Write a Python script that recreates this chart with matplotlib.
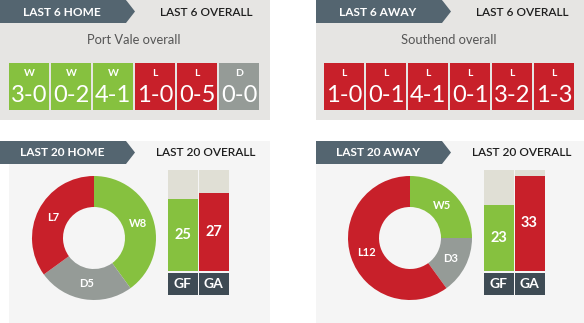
import matplotlib
matplotlib.use('Agg')
import matplotlib.pyplot as plt
from matplotlib.patches import Polygon, Rectangle

plt.rcParams['font.family'] = ['Lato', 'DejaVu Sans']

# data
home_results = ['W', 'W', 'W', 'L', 'L', 'D']
home_scores = ['3-0', '0-2', '4-1', '1-0', '0-5', '0-0']
away_results = ['L', 'L', 'L', 'L', 'L', 'L']
away_scores = ['1-0', '0-1', '4-1', '0-1', '3-2', '1-3']

wdl_labels = ['W', 'D', 'L']
home_wdl = [8, 5, 7]
away_wdl = [5, 3, 12]

goal_labels = ['GF', 'GA']
home_goals = [25, 27]
away_goals = [23, 33]
goal_max = 35

team_titles = ['Port Vale overall', 'Southend overall']

# colours
GREEN = '#86c13f'
RED = '#c8202a'
GREY = '#959b97'
DARK = '#546570'
LABEL_BOX = '#3e4b54'
TOP_BG = '#e6e5e3'
BOT_BG = '#f5f5f5'
BAR_BG = '#e0dfd5'
res_colors = {'W': GREEN, 'L': RED, 'D': GREY}

W, H = 584, 323
fig = plt.figure(figsize=(W / 100, H / 100), dpi=100)
fig.patch.set_facecolor('white')
ax = fig.add_axes([0, 0, 1, 1])
ax.set_xlim(0, W)
ax.set_ylim(H, 0)
ax.axis('off')


def px_axes(x0, y0, x1, y1):
    return fig.add_axes([x0 / W, 1 - y1 / H, (x1 - x0) / W, (y1 - y0) / H])


def header(x0, x1, y0, bg, dark_text, light_text):
    # tabbed header: dark arrow on the left, light tab on the right
    ax.add_patch(Polygon([(x0 + 127, y0), (x1, y0), (x1, y0 + 23), (x0 + 111, y0 + 23)],
                         closed=True, color=bg, lw=0))
    ax.add_patch(Polygon([(x0, y0), (x0 + 126, y0), (x0 + 135, y0 + 11.5),
                          (x0 + 126, y0 + 23), (x0, y0 + 23)],
                         closed=True, color=DARK, lw=0))
    ax.text(x0 + 62, y0 + 12, dark_text, color='white', fontsize=8.6,
            fontweight='bold', ha='center', va='center')
    ax.text(x0 + 206, y0 + 12, light_text, color='#1e1e1e', fontsize=8.6,
            fontweight='semibold', ha='center', va='center')


# ---- top panels: last 6 ----
panels_top = [(16, 270, 'LAST 6 HOME', home_results, home_scores),
              (316, 584, 'LAST 6 AWAY', away_results, away_scores)]
for i, (x0, x1, htxt, res, scores) in enumerate(panels_top):
    x0 = 0 if i == 0 else x0
    ax.add_patch(Rectangle((x0, 23), x1 - x0, 97, color=TOP_BG, lw=0))
    header(x0, x1, 0, TOP_BG, htxt, 'LAST 6 OVERALL')
    cx = (x0 + x1) / 2 - 1
    ax.text(cx, 40, team_titles[i], color='#555555', fontsize=9.3,
            ha='center', va='center')
    left = cx - 125
    xs = [left + 20 + k * 42 for k in range(len(res))]
    ax.bar(xs, [47] * len(res), bottom=63, width=40,
           color=[res_colors[r] for r in res], lw=0)
    for x, r, s in zip(xs, res, scores):
        ax.text(x, 73, r, color='white', fontsize=7.5, fontweight='bold',
                ha='center', va='center')
        ax.text(x, 95.5, s, color='white', fontsize=17,
                ha='center', va='center')

# ---- bottom panels: last 20 ----
panels_bot = [(9, 270, 'LAST 20 HOME', home_wdl, home_goals, 94, 167),
              (316, 584, 'LAST 20 AWAY', away_wdl, away_goals, 410, 483)]
for i, (x0, x1, htxt, wdl, goals, pcx, bx) in enumerate(panels_bot):
    hx0 = 0 if i == 0 else x0
    ax.add_patch(Rectangle((x0, 163), x1 - x0, 160, color=BOT_BG, lw=0))
    header(hx0, x1, 141, BOT_BG, htxt, 'LAST 20 OVERALL')

    # donut
    pax = px_axes(pcx - 62, 238 - 62, pcx + 62, 238 + 62)
    labels = [f'{l}{v}' for l, v in zip(wdl_labels, wdl)]
    wedges, texts = pax.pie(wdl, colors=[GREEN, GREY, RED], startangle=90,
                            counterclock=False, labels=labels,
                            labeldistance=0.74,
                            wedgeprops=dict(width=0.5, linewidth=0),
                            textprops=dict(color='white', fontsize=8,
                                           fontweight='bold',
                                           ha='center', va='center'))
    pax.set_xlim(-1, 1)
    pax.set_ylim(-1, 1)
    pax.axis('off')

    # goals bars
    unit = 101 / goal_max
    lo = -24 / unit
    bax = px_axes(bx, 170, bx + 62, 295)
    pos = [0, 1]
    bax.bar(pos, [goal_max] * 2, width=30 / 31, color=BAR_BG, lw=0)
    bax.bar(pos, goals, width=30 / 31, color=[GREEN, RED], lw=0)
    bax.bar(pos, [22 / unit] * 2, bottom=lo, width=30 / 31, color=LABEL_BOX, lw=0)
    for p, g, gl in zip(pos, goals, goal_labels):
        bax.text(p, g / 2, str(g), color='white', fontsize=10.5,
                 fontweight='bold', ha='center', va='center')
        bax.text(p, lo + 11 / unit, gl, color='white', fontsize=10,
                 fontweight='bold', ha='center', va='center')
    bax.set_xlim(-0.5, 1.5)
    bax.set_ylim(lo, goal_max)
    bax.axis('off')

fig.savefig('out.png', dpi=100, facecolor='white')
